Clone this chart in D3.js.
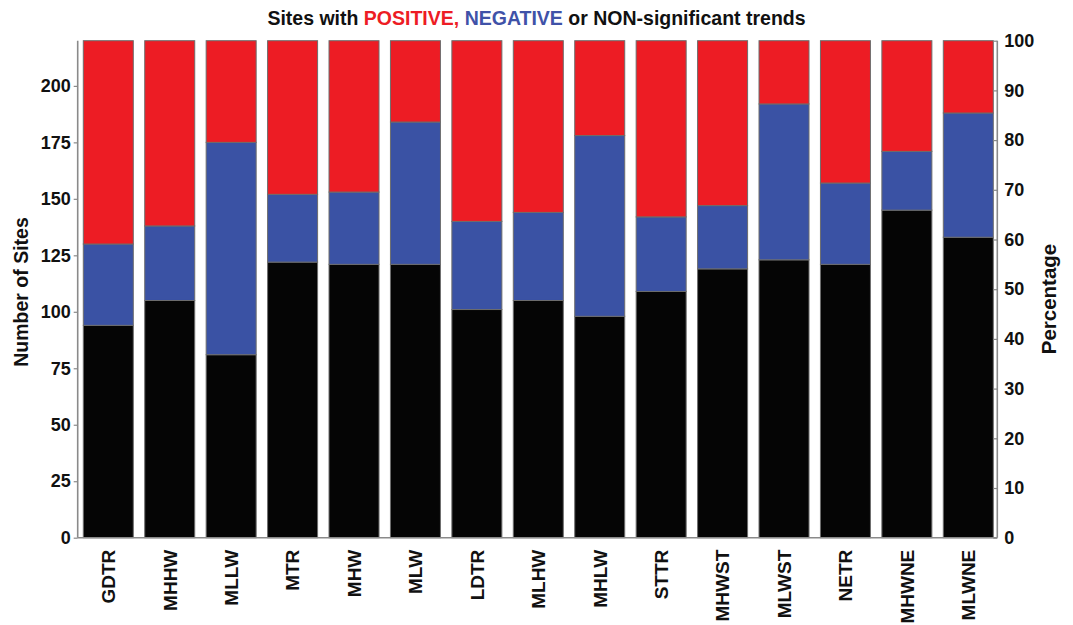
<!DOCTYPE html>
<html>
<head>
<meta charset="utf-8">
<script src="https://cdn.jsdelivr.net/npm/d3@7"></script>
<style>
  html, body { margin: 0; padding: 0; background: #ffffff; }
  svg { display: block; font-family: "Liberation Sans", Arial, Helvetica, sans-serif; }
</style>
</head>
<body>
<svg id="chart" width="1073" height="625"></svg>
<script>
// Tide-level parameters along the x axis
const categories = ["GDTR", "MHHW", "MLLW", "MTR", "MHW", "MLW", "LDTR", "MLHW",
                    "MHLW", "STTR", "MHWST", "MLWST", "NETR", "MHWNE", "MLWNE"];

// Number of sites in each trend class (220 sites in total per parameter)
const nonSignificant = [94, 105, 81, 122, 121, 121, 101, 105, 98, 109, 119, 123, 121, 145, 133];
const negative       = [36,  33, 94,  30,  32,  63,  39,  39, 80,  33,  28,  69,  36,  26,  55];
const positive       = [90,  82, 45,  68,  67,  36,  80,  76, 42,  78,  73,  28,  63,  49,  32];

const totalSites = 220;
const countTicks = [0, 25, 50, 75, 100, 125, 150, 175, 200];
const percentTicks = [0, 10, 20, 30, 40, 50, 60, 70, 80, 90, 100];

const seriesKeys = ["nonSignificant", "negative", "positive"];
const seriesColors = { nonSignificant: "#050505", negative: "#3a52a4", positive: "#ed1c24" };

const rows = categories.map((c, i) => ({
  category: c,
  nonSignificant: nonSignificant[i],
  negative: negative[i],
  positive: positive[i]
}));

const svg = d3.select("#chart");

const plot = { left: 77.7, right: 997.3, top: 40.7, bottom: 537.7 };

const x = d3.scaleBand()
  .domain(categories)
  .range([83.3, 993.3])
  .paddingInner(0.186)
  .paddingOuter(0);

const y = d3.scaleLinear().domain([0, totalSites]).range([plot.bottom, plot.top]);
const yPct = d3.scaleLinear().domain([0, 100]).range([plot.bottom, plot.top]);

const stack = d3.stack().keys(seriesKeys);
const layers = stack(rows);

// Stacked bars
svg.append("g")
  .selectAll("g")
  .data(layers)
  .join("g")
  .attr("fill", d => seriesColors[d.key])
  .selectAll("rect")
  .data(d => d)
  .join("rect")
  .attr("x", d => x(d.data.category))
  .attr("width", x.bandwidth())
  .attr("y", d => y(d[1]))
  .attr("height", d => y(d[0]) - y(d[1]))
  .attr("stroke", "#6d6d6d")
  .attr("stroke-width", 1);

const axisColor = "#8a8a8a";
const tickFont = "18px";

// Left axis: number of sites
const leftAxis = svg.append("g")
  .attr("transform", `translate(${plot.left},0)`)
  .call(d3.axisLeft(y).tickValues(countTicks).tickSize(4).tickPadding(3));
leftAxis.select(".domain").attr("d", `M0,${plot.top}V${plot.bottom}`)
  .attr("stroke", axisColor).attr("stroke-width", 1.6);
leftAxis.selectAll(".tick line").attr("stroke", axisColor).attr("stroke-width", 1.2);
leftAxis.selectAll(".tick text")
  .attr("fill", "#111").style("font-size", tickFont).style("font-weight", "bold");

// Right axis: percentage
const rightAxis = svg.append("g")
  .attr("transform", `translate(${plot.right},0)`)
  .call(d3.axisRight(yPct).tickValues(percentTicks).tickSizeInner(-4).tickSizeOuter(0).tickPadding(7));
rightAxis.select(".domain").attr("d", `M0,${plot.top}V${plot.bottom}`)
  .attr("stroke", axisColor).attr("stroke-width", 1.6);
rightAxis.selectAll(".tick line").attr("stroke", axisColor).attr("stroke-width", 1.2);
rightAxis.selectAll(".tick text")
  .attr("fill", "#111").style("font-size", tickFont).style("font-weight", "bold");

// Baseline
svg.append("line")
  .attr("x1", plot.left).attr("x2", plot.right)
  .attr("y1", plot.bottom).attr("y2", plot.bottom)
  .attr("stroke", axisColor).attr("stroke-width", 1.6);

// Category labels, rotated
const bottomAxis = svg.append("g")
  .attr("transform", `translate(0,${plot.bottom})`)
  .call(d3.axisBottom(x).tickSize(0).tickPadding(0));
bottomAxis.select(".domain").remove();
bottomAxis.selectAll(".tick text")
  .attr("transform", "translate(0,12) rotate(-90)")
  .attr("x", 0).attr("y", 0).attr("dy", "0.36em")
  .attr("text-anchor", "end")
  .attr("fill", "#111")
  .style("font-size", "19px").style("font-weight", "bold");

// Axis titles
svg.append("text")
  .attr("transform", `translate(28,292) rotate(-90)`)
  .attr("text-anchor", "middle")
  .attr("fill", "#111")
  .style("font-size", "19.5px").style("font-weight", "bold")
  .text("Number of Sites");

svg.append("text")
  .attr("transform", `translate(1056,299) rotate(-90)`)
  .attr("text-anchor", "middle")
  .attr("fill", "#111")
  .style("font-size", "20.5px").style("font-weight", "bold")
  .text("Percentage");

// Title with coloured keywords
const title = svg.append("text")
  .attr("x", 536.5).attr("y", 25)
  .attr("text-anchor", "middle")
  .style("font-size", "19.5px").style("font-weight", "bold");
title.append("tspan").attr("fill", "#111").text("Sites with ");
title.append("tspan").attr("fill", seriesColors.positive).text("POSITIVE,");
title.append("tspan").attr("fill", "#111").text(" ");
title.append("tspan").attr("fill", "#3f52a8").text("NEGATIVE");
title.append("tspan").attr("fill", "#111").text(" or NON-significant trends");
</script>
</body>
</html>
